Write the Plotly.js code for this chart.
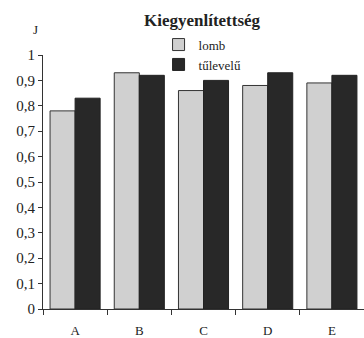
<!DOCTYPE html>
<html><head><meta charset="utf-8">
<script src="https://cdn.plot.ly/plotly-3.0.1.min.js"></script>
<style>body{margin:0;background:#fff}#c{width:364px;height:338px}</style>
</head><body><div id="c"></div>
<script>
var categories = ["A","B","C","D","E"];
var lomb = [0.78, 0.93, 0.86, 0.88, 0.89];
var tulevelu = [0.83, 0.92, 0.90, 0.93, 0.92];
var seriesNames = ["lomb","tűlevelű"];

var traces = [
  {type:"bar", x:categories, y:lomb, name:seriesNames[0],
   marker:{color:"#d0d0d0", line:{color:"#333", width:1}}},
  {type:"bar", x:categories, y:tulevelu, name:seriesNames[1],
   marker:{color:"#282828", line:{color:"#222", width:1}}}
];
var layout = {
  width:364, height:338,
  margin:{l:43, r:0, t:55, b:29},
  paper_bgcolor:"#fff", plot_bgcolor:"#fff",
  separators:",.",
  font:{family:"Liberation Serif, serif", size:13, color:"#222"},
  title:{text:"<b>Kiegyenlítettség</b>", x:0.555, xanchor:"center", y:0.94, yanchor:"middle",
         font:{size:17, family:"Liberation Serif, serif", color:"#222"}},
  barmode:"group", bargap:0.22, bargroupgap:0,
  showlegend:true,
  legend:{x:0.36, y:1.1, xanchor:"left", yanchor:"top", bgcolor:"rgba(0,0,0,0)",
          font:{size:13, family:"Liberation Serif, serif", color:"#222"},
          itemwidth:30, tracegroupgap:0},
  xaxis:{showline:true, linecolor:"#333", linewidth:1, ticks:"outside", ticklen:5,
         tickcolor:"#333", tickson:"boundaries", showgrid:false, zeroline:false,
         tickfont:{size:13}, ticklabelstandoff:9},
  yaxis:{range:[0,1], dtick:0.1, showline:true, linecolor:"#333", linewidth:1,
         ticks:"outside", ticklen:4, tickcolor:"#333", showgrid:false, zeroline:false,
         tickfont:{size:15}},
  annotations:[{text:"J", xref:"paper", yref:"paper", x:-0.01, y:1.1, xanchor:"right",
               yanchor:"middle", showarrow:false, font:{size:13, family:"Liberation Serif, serif", color:"#222"}}]
};
Plotly.newPlot("c", traces, layout, {displayModeBar:false, staticPlot:true});
</script></body></html>
